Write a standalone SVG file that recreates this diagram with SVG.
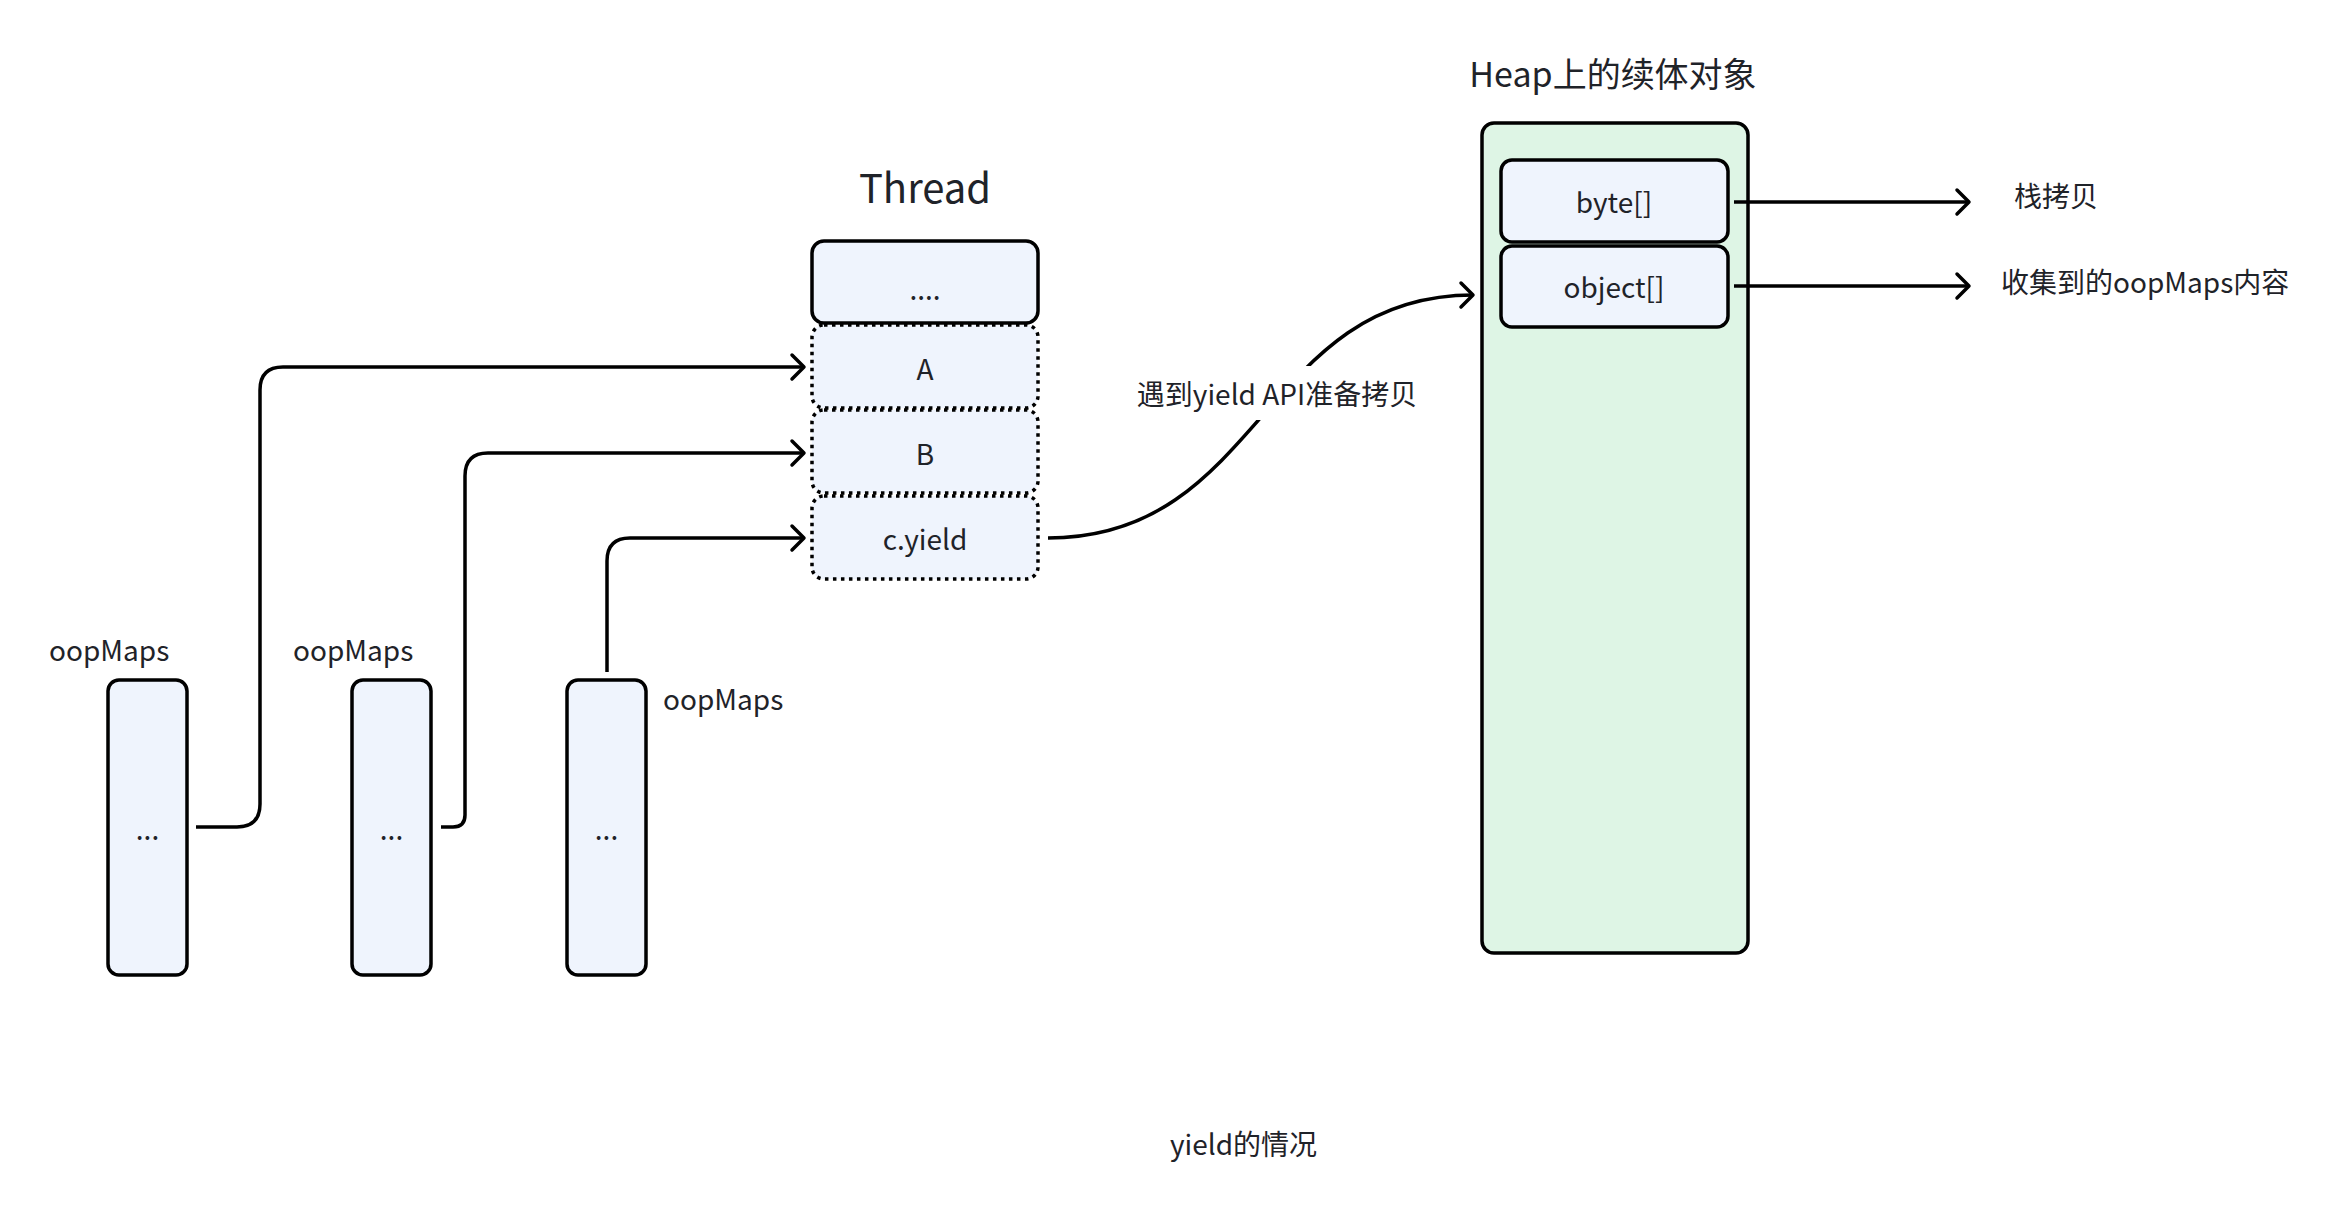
<svg xmlns="http://www.w3.org/2000/svg" width="2336" height="1212" viewBox="0 0 2336 1212">
<defs>
<style>
text{font-family:"Noto Sans CJK SC","Noto Sans",sans-serif;fill:#1f2329}
.t{font-size:28px}
.title{font-size:40px}
.htitle{font-size:34px}
.node{fill:#eff4fd;stroke:#000;stroke-width:3.5}
.dot{fill:#eff4fd;stroke:#000;stroke-width:3.5;stroke-dasharray:3.5 4.5}
.heap{fill:#def5e5;stroke:#000;stroke-width:3.5}
.ca{fill:none;stroke:#000;stroke-width:3.5;marker-end:url(#arr)}
</style>
<marker id="arr" viewBox="0 0 18 30" refX="15" refY="15" markerWidth="18" markerHeight="30" markerUnits="userSpaceOnUse" orient="auto">
<path d="M3 3 L15 15 L3 27" fill="none" stroke="#000" stroke-width="3.5" stroke-linecap="round" stroke-linejoin="round"/>
</marker>
</defs>
<rect width="2336" height="1212" fill="#fff"/>

<g id="thread-title"><text class="title" x="925" y="203" text-anchor="middle">Thread</text></g>
<g id="heap-title"><text class="htitle" x="1613" y="87" text-anchor="middle">Heap上的续体对象</text></g>

<g id="heap"><rect class="heap" x="1482" y="123" width="266" height="830" rx="12"/></g>
<g id="byte"><rect class="node" x="1501" y="160" width="227" height="82" rx="11"/><text class="t" x="1614" y="213" text-anchor="middle">byte[]</text></g>
<g id="object"><rect class="node" x="1501" y="246" width="227" height="81" rx="11"/><text class="t" x="1614" y="298" text-anchor="middle">object[]</text></g>

<g id="frame-top"><rect class="node" x="812" y="241" width="226" height="82" rx="12"/><text class="t" x="925" y="300" text-anchor="middle">....</text></g>
<g id="frame-a"><rect class="dot" x="812" y="325" width="226" height="83" rx="12"/><text class="t" x="925" y="380" text-anchor="middle">A</text></g>
<g id="frame-b"><rect class="dot" x="812" y="410" width="226" height="83" rx="12"/><text class="t" x="925" y="465" text-anchor="middle">B</text></g>
<g id="frame-c"><rect class="dot" x="812" y="496" width="226" height="83" rx="12"/><text class="t" x="925" y="550" text-anchor="middle">c.yield</text></g>

<g id="oop1"><rect class="node" x="108" y="680" width="79" height="295" rx="11"/><text class="t" x="147.5" y="840" text-anchor="middle">...</text></g>
<g id="oop2"><rect class="node" x="352" y="680" width="79" height="295" rx="11"/><text class="t" x="391.5" y="840" text-anchor="middle">...</text></g>
<g id="oop3"><rect class="node" x="567" y="680" width="79" height="295" rx="11"/><text class="t" x="606.5" y="840" text-anchor="middle">...</text></g>

<g id="labels">
<text class="t" x="49" y="661">oopMaps</text>
<text class="t" x="293" y="661">oopMaps</text>
<text class="t" x="663" y="710">oopMaps</text>
<text class="t" x="2014" y="207">栈拷贝</text>
<text class="t" x="2001" y="293">收集到的oopMaps内容</text>
<text class="t" x="1243.5" y="1155" text-anchor="middle">yield的情况</text>
</g>

<g id="connectors">
<path class="ca" d="M196 827 H237 Q260 827 260 804 V390 Q260 367 283 367 H804"/>
<path class="ca" d="M441 827 H453 Q465 827 465 815 V476 Q465 453 488 453 H804"/>
<path class="ca" d="M607 672 V561 Q607 538 630 538 H804"/>
<path class="ca" d="M1048 538 C1262 538 1262 295 1473 295"/>
<path class="ca" d="M1734 202 H1969"/>
<path class="ca" d="M1734 286 H1969"/>
<rect x="1132" y="366" width="290" height="54" fill="#fff"/>
<text class="t" x="1277" y="405" text-anchor="middle">遇到yield API准备拷贝</text>
</g>
</svg>
